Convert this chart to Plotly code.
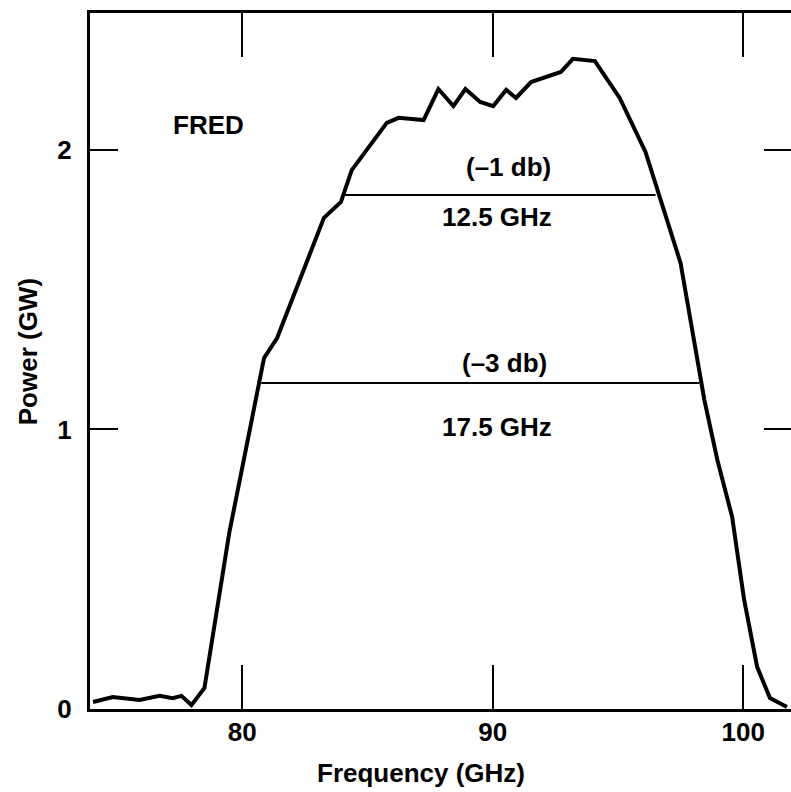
import plotly.graph_objects as go

# Data
freq = [74.04, 74.83, 75.90, 76.70, 77.22, 77.57, 77.97, 78.49, 79.48, 80.56,
        80.87, 81.39, 83.26, 83.94, 84.37, 85.77, 86.24, 87.24, 87.83, 88.43,
        88.91, 89.50, 90.02, 90.54, 90.93, 91.53, 92.72, 93.20, 94.08, 95.07,
        95.67, 96.10, 97.50, 98.45, 98.97, 99.56, 100.04, 100.56, 101.07, 101.75]
power = [0.025, 0.043, 0.032, 0.047, 0.039, 0.047, 0.014, 0.075, 0.63, 1.106,
         1.256, 1.327, 1.757, 1.814, 1.928, 2.097, 2.115, 2.107, 2.218, 2.157,
         2.218, 2.172, 2.157, 2.215, 2.186, 2.243, 2.279, 2.326, 2.318, 2.186,
         2.072, 1.993, 1.596, 1.106, 0.891, 0.687, 0.39, 0.150, 0.039, 0.007]

db1_x = [84.05, 96.5]
db1_y = [1.839, 1.839]
db3_x = [80.76, 98.25]
db3_y = [1.166, 1.166]

x_ticks = [80, 90, 100]
x_tick_labels = ["80", "90", "100"]
y_ticks = [0, 1, 2]
y_tick_labels = ["0", "1", "2"]

labels = ["FRED", "(–1 db)", "12.5 GHz", "(–3 db)", "17.5 GHz"]
label_x = [78.65, 90.62, 90.18, 90.46, 90.18]
label_y = [2.089, 1.939, 1.760, 1.238, 1.009]

FONT = "Liberation Sans"
W, H = 795, 792
ML, MT, MB = 90, 13, 83

fig = go.Figure()
fig.add_trace(go.Scatter(x=freq, y=power, mode="lines",
                         line=dict(color="black", width=4), showlegend=False,
                         hoverinfo="skip"))
for xs, ys in [(db1_x, db1_y), (db3_x, db3_y)]:
    fig.add_trace(go.Scatter(x=xs, y=ys, mode="lines",
                             line=dict(color="black", width=2), showlegend=False,
                             hoverinfo="skip"))

for t, x, y in zip(labels, label_x, label_y):
    fig.add_annotation(x=x, y=y, xref="x", yref="y", text="<b>%s</b>" % t,
                       showarrow=False, xanchor="center", yanchor="middle",
                       font=dict(family=FONT, size=26, color="black"))

# axis titles (positions in page pixels, converted below)
fig.add_annotation(x=422, y=773, xref="paper", yref="paper", text="<b>Frequency (GHz)</b>",
                   showarrow=False, xanchor="center", yanchor="middle",
                   font=dict(family=FONT, size=26, color="black"))
fig.add_annotation(x=28, y=352, xref="paper", yref="paper", text="<b>Power (GW)</b>",
                   textangle=-90, showarrow=False, xanchor="center", yanchor="middle",
                   font=dict(family=FONT, size=26, color="black"))

fig.update_layout(
    width=W, height=H,
    margin=dict(l=ML, r=0, t=MT, b=MB),
    paper_bgcolor="white", plot_bgcolor="white",
    xaxis=dict(range=[73.92, 101.95], tickvals=x_ticks,
               ticktext=["<b>%s</b>" % s for s in x_tick_labels],
               ticks="inside", ticklen=44,
               tickwidth=2, tickcolor="black", showline=True, linecolor="black",
               linewidth=3, mirror="ticks", showgrid=False, zeroline=False,
               tickfont=dict(family=FONT, size=26, color="black"),
               ticklabelstandoff=-2),
    yaxis=dict(range=[0, 2.49], tickvals=y_ticks,
               ticktext=["<b>%s</b>" % s for s in y_tick_labels],
               ticks="inside", ticklen=28,
               tickwidth=2, tickcolor="black", showline=True, linecolor="black",
               linewidth=3, mirror="ticks", showgrid=False, zeroline=False,
               tickfont=dict(family=FONT, size=26, color="black"),
               ticklabelstandoff=10),
)

pw = W - ML
ph = H - MT - MB
for a in fig.layout.annotations:
    if a.xref == "paper":
        a.x = (a.x - ML) / pw
        a.y = (H - MB - a.y) / ph

fig.write_html("out.html", config={"displayModeBar": False},
               post_script="document.body.style.margin='0';document.body.style.overflow='hidden';")
